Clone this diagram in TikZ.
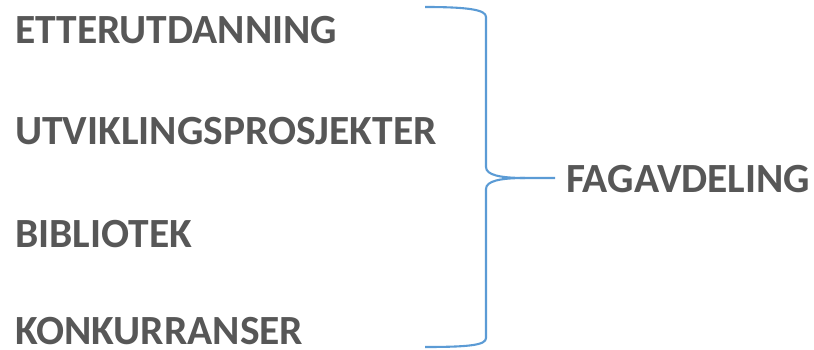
\documentclass[tikz,border=0pt]{standalone}
\usepackage{fontspec}
\setmainfont{Carlito}
\usepackage{xcolor}
\usetikzlibrary{positioning}
\definecolor{txtgray}{HTML}{575757}
\definecolor{braceblue}{HTML}{5B9BD5}
\tikzset{
  item/.style={anchor=base west, inner sep=0pt, text=txtgray, font=\fontsize{41.5}{48}\selectfont\bfseries},
  bracelin/.style={draw=braceblue, line width=2.1pt}
}

\begin{document}
\begin{tikzpicture}[x=1pt,y=-1pt]
\useasboundingbox (0,0) rectangle (814,350);

% Items
\node[item] (etter) at (15,44) {ETTERUTDANNING};
\node[item] (utvik) at (15,145) {UTVIKLINGSPROSJEKTER};
\node[item] (bibl) at (15,247) {BIBLIOTEK};
\node[item] (konk) at (15,344) {KONKURRANSER};

% Result
\node[item] (fag) at (566,192) {FAGAVDELING};

% Brace
\coordinate (top) at (425,7);
\coordinate (bot) at (425,347);
\coordinate (tip) at (555,178);
\draw[bracelin] (top) .. controls (470,7) and (486,10) .. (486,17)
  -- (486,167) .. controls (486,175) and (500,178) .. (525,178) -- (tip);
\draw[bracelin] (525,178) .. controls (500,178) and (486,181) .. (486,189)
  -- (486,338) .. controls (486,345) and (470,347) .. (bot);
\end{tikzpicture}
\end{document}
